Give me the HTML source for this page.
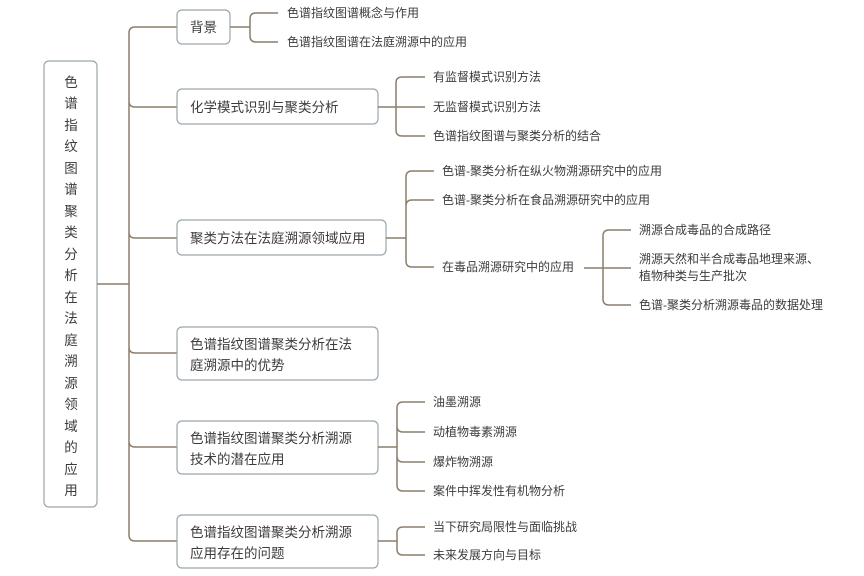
<!DOCTYPE html>
<html><head><meta charset="utf-8"><style>
body{margin:0;background:#fff}
svg{display:block}
text{font-family:"Liberation Sans","Noto Sans CJK SC",sans-serif;fill:#3c3c3c}
.l{fill:none;stroke:#8b7f6c;stroke-width:1.5}
.b{fill:#fff;stroke:#9aa6ae;stroke-width:1.2}
.t1{font-size:13.5px}
.t2{font-size:12px}
</style></head><body>
<svg width="864" height="576" viewBox="0 0 864 576">
<!-- root -->
<rect class="b" x="44" y="61" width="53" height="446" rx="5"/>
<g class="t1" text-anchor="middle">
<text x="71" y="87">色</text><text x="71" y="108">谱</text><text x="71" y="130">指</text><text x="71" y="151">纹</text><text x="71" y="173">图</text><text x="71" y="194">谱</text><text x="71" y="216">聚</text><text x="71" y="237">类</text><text x="71" y="259">分</text><text x="71" y="280">析</text><text x="71" y="302">在</text><text x="71" y="323">法</text><text x="71" y="345">庭</text><text x="71" y="366">溯</text><text x="71" y="388">源</text><text x="71" y="409">领</text><text x="71" y="431">域</text><text x="71" y="452">的</text><text x="71" y="474">应</text><text x="71" y="495">用</text>
</g>
<!-- trunk -->
<path class="l" d="M97 284 H129 M177 27 H135 Q129 27 129 33 V535 Q129 541 135 541 H177
M129 101 Q129 107 135 107 H177 M129 232 Q129 238 135 238 H177 M129 347 Q129 353 135 353 H177 M129 441 Q129 447 135 447 H177"/>
<!-- level1 boxes -->
<rect class="b" x="177" y="10" width="53" height="34" rx="5"/>
<text class="t1" x="190" y="32">背景</text>
<rect class="b" x="177" y="89" width="201" height="35" rx="5"/>
<text class="t1" x="190" y="112">化学模式识别与聚类分析</text>
<rect class="b" x="177" y="220" width="209" height="35" rx="5"/>
<text class="t1" x="190" y="243">聚类方法在法庭溯源领域应用</text>
<rect class="b" x="177" y="327" width="201" height="53" rx="5"/>
<text class="t1" x="190" y="349">色谱指纹图谱聚类分析在法</text>
<text class="t1" x="190" y="370">庭溯源中的优势</text>
<rect class="b" x="177" y="421" width="201" height="53" rx="5"/>
<text class="t1" x="190" y="443">色谱指纹图谱聚类分析溯源</text>
<text class="t1" x="190" y="464">技术的潜在应用</text>
<rect class="b" x="177" y="515" width="201" height="53" rx="5"/>
<text class="t1" x="190" y="537">色谱指纹图谱聚类分析溯源</text>
<text class="t1" x="190" y="558">应用存在的问题</text>
<!-- brackets -->
<path class="l" d="M230 27 H250 M278 13 H256 Q250 13 250 19 V36 Q250 42 256 42 H278"/>
<path class="l" d="M378 107 H396 M425 77 H402 Q396 77 396 83 V130 Q396 136 402 136 H425 M396 107 H425"/>
<path class="l" d="M386 238 H406 M434 171 H412 Q406 171 406 177 V261 Q406 267 412 267 H434 M406 206 Q406 200 412 200 H434"/>
<path class="l" d="M584 268 H631 M631 230 H609 Q603 230 603 236 V299 Q603 305 609 305 H631"/>
<path class="l" d="M378 447 H397 M425 402 H403 Q397 402 397 408 V485 Q397 491 403 491 H425 M397 426 Q397 432 403 432 H425 M397 456 Q397 462 403 462 H425"/>
<path class="l" d="M378 541 H397 M425 527 H403 Q397 527 397 533 V549 Q397 555 403 555 H425"/>
<!-- leaves -->
<g class="t2">
<text x="287" y="17">色谱指纹图谱概念与作用</text>
<text x="287" y="46">色谱指纹图谱在法庭溯源中的应用</text>
<text x="433" y="81">有监督模式识别方法</text>
<text x="433" y="111">无监督模式识别方法</text>
<text x="433" y="140">色谱指纹图谱与聚类分析的结合</text>
<text x="442" y="175">色谱-聚类分析在纵火物溯源研究中的应用</text>
<text x="442" y="204">色谱-聚类分析在食品溯源研究中的应用</text>
<text x="442" y="271">在毒品溯源研究中的应用</text>
<text x="639" y="234">溯源合成毒品的合成路径</text>
<text x="639" y="263">溯源天然和半合成毒品地理来源、</text>
<text x="639" y="280">植物种类与生产批次</text>
<text x="639" y="309">色谱-聚类分析溯源毒品的数据处理</text>
<text x="433" y="406">油墨溯源</text>
<text x="433" y="436">动植物毒素溯源</text>
<text x="433" y="466">爆炸物溯源</text>
<text x="433" y="495">案件中挥发性有机物分析</text>
<text x="433" y="531">当下研究局限性与面临挑战</text>
<text x="433" y="559">未来发展方向与目标</text>
</g>
</svg>
</body></html>
